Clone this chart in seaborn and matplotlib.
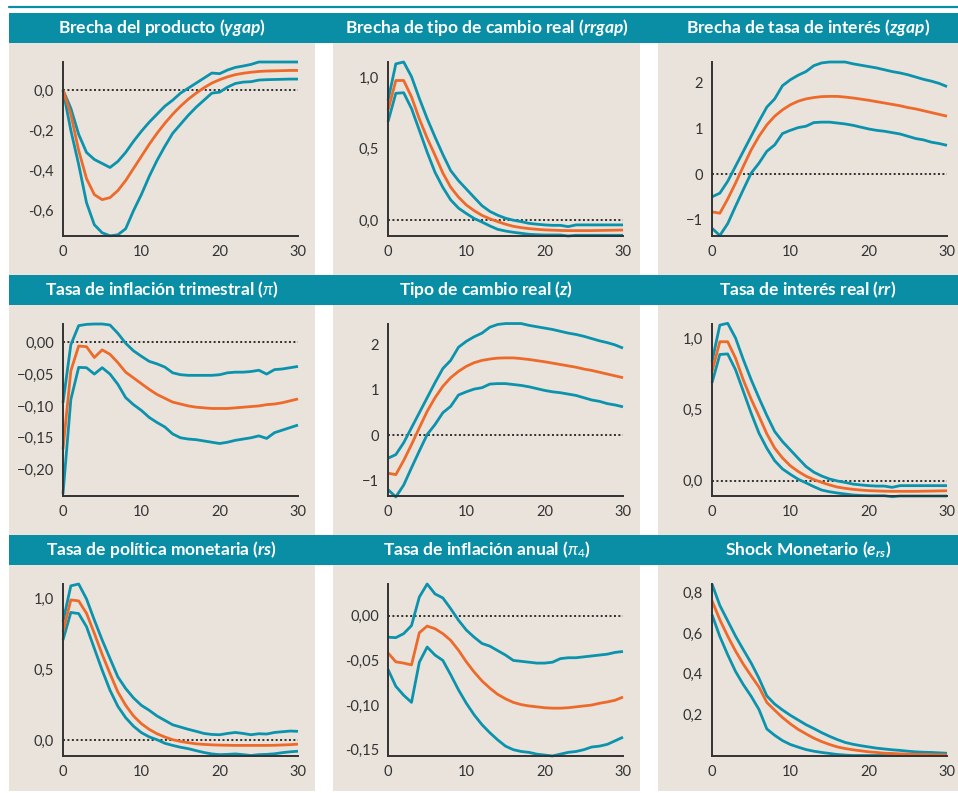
import numpy as np
import pandas as pd
import matplotlib
matplotlib.use("Agg")
import matplotlib.pyplot as plt
import seaborn as sns
from matplotlib.patches import Rectangle
from matplotlib.lines import Line2D

# ---------------- data ----------------
t = list(range(31))

ygap_upper = [0, -0.09, -0.22, -0.31, -0.345, -0.365, -0.385, -0.355, -0.31, -0.255, -0.205, -0.16, -0.12, -0.08, -0.05, -0.015, 0.01, 0.035, 0.06, 0.085, 0.082, 0.1, 0.113, 0.12, 0.128, 0.14, 0.14, 0.14, 0.14, 0.14, 0.14]
ygap_median = [0, -0.12, -0.3, -0.44, -0.52, -0.545, -0.535, -0.5, -0.45, -0.39, -0.33, -0.27, -0.215, -0.165, -0.12, -0.08, -0.045, -0.015, 0.012, 0.035, 0.052, 0.066, 0.077, 0.084, 0.089, 0.093, 0.095, 0.096, 0.097, 0.098, 0.098]
ygap_lower = [0, -0.2, -0.37, -0.56, -0.67, -0.71, -0.725, -0.72, -0.69, -0.6, -0.52, -0.43, -0.35, -0.28, -0.215, -0.17, -0.125, -0.085, -0.05, -0.015, -0.01, 0.015, 0.033, 0.04, 0.042, 0.05, 0.052, 0.053, 0.054, 0.055, 0.055]

rrgap_upper = [0.84, 1.097, 1.11, 1.007, 0.854, 0.712, 0.583, 0.46, 0.347, 0.276, 0.217, 0.158, 0.1, 0.06, 0.033, 0.012, -0.002, -0.012, -0.024, -0.03, -0.035, -0.038, -0.038, -0.047, -0.035, -0.035, -0.035, -0.035, -0.035, -0.035, -0.035]
rrgap_median = [0.77, 0.98, 0.98, 0.865, 0.71, 0.575, 0.455, 0.33, 0.23, 0.16, 0.105, 0.065, 0.032, 0.008, -0.012, -0.03, -0.045, -0.054, -0.061, -0.066, -0.07, -0.072, -0.074, -0.075, -0.075, -0.075, -0.075, -0.074, -0.073, -0.072, -0.071]
rrgap_lower = [0.69, 0.89, 0.894, 0.783, 0.63, 0.476, 0.335, 0.229, 0.141, 0.083, 0.045, 0.01, -0.015, -0.042, -0.066, -0.078, -0.087, -0.094, -0.101, -0.104, -0.106, -0.106, -0.106, -0.113, -0.108, -0.108, -0.108, -0.108, -0.108, -0.108, -0.108]

zgap_upper = [-0.5, -0.42, -0.16, 0.17, 0.5, 0.83, 1.16, 1.47, 1.65, 1.94, 2.07, 2.17, 2.25, 2.38, 2.44, 2.46, 2.46, 2.46, 2.42, 2.39, 2.36, 2.33, 2.29, 2.25, 2.22, 2.18, 2.13, 2.08, 2.04, 1.99, 1.92]
zgap_median = [-0.83, -0.86, -0.55, -0.2, 0.17, 0.53, 0.83, 1.08, 1.27, 1.41, 1.52, 1.6, 1.65, 1.68, 1.70, 1.705, 1.705, 1.69, 1.67, 1.645, 1.62, 1.59, 1.56, 1.53, 1.50, 1.46, 1.43, 1.39, 1.35, 1.31, 1.27]
zgap_lower = [-1.19, -1.35, -1.09, -0.71, -0.34, 0.02, 0.24, 0.5, 0.64, 0.89, 0.96, 1.02, 1.05, 1.13, 1.14, 1.14, 1.12, 1.1, 1.07, 1.03, 0.99, 0.96, 0.94, 0.91, 0.88, 0.83, 0.78, 0.75, 0.70, 0.67, 0.63]

pi_upper = [-0.095, -0.004, 0.026, 0.028, 0.0286, 0.0286, 0.027, 0.014, -0.0016, -0.0135, -0.022, -0.03, -0.034, -0.039, -0.048, -0.051, -0.052, -0.052, -0.052, -0.052, -0.051, -0.048, -0.047, -0.047, -0.046, -0.044, -0.05, -0.043, -0.042, -0.04, -0.038]
pi_median = [-0.168, -0.045, -0.006, -0.007, -0.024, -0.012, -0.019, -0.032, -0.047, -0.056, -0.065, -0.074, -0.082, -0.088, -0.094, -0.097, -0.1, -0.102, -0.103, -0.104, -0.104, -0.104, -0.103, -0.102, -0.101, -0.1, -0.098, -0.097, -0.095, -0.092, -0.089]
pi_lower = [-0.238, -0.09, -0.0395, -0.04, -0.05, -0.04, -0.05, -0.066, -0.087, -0.098, -0.107, -0.118, -0.126, -0.133, -0.144, -0.15, -0.152, -0.153, -0.155, -0.157, -0.159, -0.157, -0.154, -0.152, -0.15, -0.147, -0.151, -0.142, -0.138, -0.134, -0.13]

z_upper = zgap_upper
z_median = zgap_median
z_lower = zgap_lower

rr_upper = rrgap_upper
rr_median = rrgap_median
rr_lower = rrgap_lower

rs_upper = [0.835, 1.087, 1.1, 0.995, 0.847, 0.706, 0.576, 0.447, 0.365, 0.299, 0.247, 0.212, 0.172, 0.141, 0.11, 0.094, 0.078, 0.064, 0.049, 0.042, 0.04, 0.049, 0.056, 0.049, 0.04, 0.047, 0.045, 0.056, 0.061, 0.066, 0.064]
rs_median = [0.765, 0.988, 0.981, 0.894, 0.753, 0.605, 0.47, 0.341, 0.247, 0.172, 0.118, 0.078, 0.047, 0.024, 0.005, -0.007, -0.016, -0.024, -0.028, -0.031, -0.033, -0.034, -0.035, -0.035, -0.035, -0.035, -0.035, -0.034, -0.032, -0.03, -0.026]
rs_lower = [0.706, 0.9, 0.892, 0.8, 0.647, 0.494, 0.353, 0.24, 0.16, 0.1, 0.055, 0.025, 0.005, -0.02, -0.035, -0.048, -0.058, -0.072, -0.085, -0.095, -0.1, -0.098, -0.095, -0.1, -0.106, -0.1, -0.098, -0.094, -0.086, -0.08, -0.076]

pi4_upper = [-0.024, -0.0245, -0.02, -0.011, 0.021, 0.0356, 0.0245, 0.02, 0.008, -0.005, -0.016, -0.024, -0.031, -0.034, -0.039, -0.044, -0.05, -0.051, -0.052, -0.053, -0.053, -0.052, -0.048, -0.047, -0.047, -0.046, -0.045, -0.044, -0.043, -0.041, -0.04]
pi4_median = [-0.0416, -0.0516, -0.053, -0.055, -0.019, -0.0115, -0.0145, -0.02, -0.0275, -0.0386, -0.0516, -0.063, -0.073, -0.081, -0.088, -0.093, -0.097, -0.0995, -0.101, -0.102, -0.103, -0.1035, -0.1035, -0.103, -0.102, -0.101, -0.1, -0.098, -0.0965, -0.0946, -0.091]
pi4_lower = [-0.06, -0.079, -0.089, -0.097, -0.052, -0.035, -0.044, -0.05, -0.066, -0.083, -0.098, -0.111, -0.122, -0.131, -0.139, -0.146, -0.15, -0.152, -0.153, -0.155, -0.156, -0.157, -0.155, -0.153, -0.152, -0.15, -0.147, -0.146, -0.144, -0.14, -0.136]

ers_upper = [0.84, 0.735, 0.66, 0.585, 0.518, 0.453, 0.378, 0.292, 0.252, 0.223, 0.197, 0.174, 0.151, 0.132, 0.112, 0.094, 0.078, 0.064, 0.055, 0.048, 0.042, 0.036, 0.032, 0.028, 0.025, 0.021, 0.018, 0.016, 0.015, 0.013, 0.011]
ers_median = [0.758, 0.665, 0.585, 0.512, 0.447, 0.39, 0.335, 0.26, 0.222, 0.186, 0.155, 0.128, 0.106, 0.085, 0.068, 0.054, 0.042, 0.034, 0.028, 0.023, 0.018, 0.015, 0.011, 0.01, 0.008, 0.007, 0.006, 0.005, 0.004, 0.004, 0.003]
ers_lower = [0.69, 0.583, 0.494, 0.412, 0.347, 0.29, 0.225, 0.13, 0.099, 0.073, 0.054, 0.041, 0.029, 0.021, 0.015, 0.01, 0.005, 0.002, 0, 0, 0, 0, 0, 0, 0, 0, 0, 0, 0, 0, 0]

titles = [
    r"Brecha del producto ($\mathbfit{ygap}$)",
    r"Brecha de tipo de cambio real ($\mathbfit{rrgap}$)",
    r"Brecha de tasa de interés ($\mathbfit{zgap}$)",
    r"Tasa de inflación trimestral ($\pi$)",
    r"Tipo de cambio real ($\mathbfit{z}$)",
    r"Tasa de interés real ($\mathbfit{rr}$)",
    r"Tasa de política monetaria ($\mathbfit{rs}$)",
    r"Tasa de inflación anual ($\pi_4$)",
    r"Shock Monetario ($\mathbfit{e}_{\mathbfit{rs}}$)",
]

series = [
    (ygap_lower, ygap_median, ygap_upper),
    (rrgap_lower, rrgap_median, rrgap_upper),
    (zgap_lower, zgap_median, zgap_upper),
    (pi_lower, pi_median, pi_upper),
    (z_lower, z_median, z_upper),
    (rr_lower, rr_median, rr_upper),
    (rs_lower, rs_median, rs_upper),
    (pi4_lower, pi4_median, pi4_upper),
    (ers_lower, ers_median, ers_upper),
]

yticks = [
    [0.0, -0.2, -0.4, -0.6],
    [0.0, 0.5, 1.0],
    [-1, 0, 1, 2],
    [0.0, -0.05, -0.10, -0.15, -0.20],
    [-1, 0, 1, 2],
    [0.0, 0.5, 1.0],
    [0.0, 0.5, 1.0],
    [0.0, -0.05, -0.10, -0.15],
    [0.2, 0.4, 0.6, 0.8],
]
ytick_labels = [
    ["0,0", "-0,2", "-0,4", "-0,6"],
    ["0,0", "0,5", "1,0"],
    ["\u22121", "0", "1", "2"],
    ["0,00", "\u22120,05", "\u22120,10", "\u22120,15", "\u22120,20"],
    ["\u22121", "0", "1", "2"],
    ["0,0", "0,5", "1,0"],
    ["0,0", "0,5", "1,0"],
    ["0,00", "-0,05", "-0,10", "-0,15"],
    ["0,2", "0,4", "0,6", "0,8"],
]
ylims = [
    (-0.726, 0.14),
    (-0.113, 1.11),
    (-1.36, 2.46),
    (-0.2414, 0.0286),
    (-1.33, 2.45),
    (-0.108, 1.105),
    (-0.106, 1.1),
    (-0.1565, 0.0356),
    (0.0, 0.84),
]
xticks = [0, 10, 20, 30]

# ---------------- style ----------------
sns.set_style("white")
plt.rcParams["font.family"] = ["Lato", "DejaVu Sans"]
plt.rcParams["mathtext.fontset"] = "custom"
plt.rcParams["mathtext.rm"] = "Lato"
plt.rcParams["mathtext.it"] = "Lato:italic"
plt.rcParams["mathtext.bf"] = "Lato:bold"
plt.rcParams["mathtext.bfit"] = "Lato:italic:bold"

TEAL_BAR = "#0a8ea6"
TEAL = "#0b93ad"
ORANGE = "#ee6a2a"
BG = "#e9e3dc"
AXC = "#333333"

W, H = 958, 793
fig = plt.figure(figsize=(W / 100, H / 100), dpi=100)
fig.patch.set_facecolor("white")


def frect(x0, y0, x1, y1, color):
    fig.add_artist(Rectangle((x0 / W, 1 - y1 / H), (x1 - x0) / W, (y1 - y0) / H,
                             transform=fig.transFigure, facecolor=color,
                             edgecolor="none", lw=0, zorder=-5))


col_bg = [(9, 315), (333, 640), (658, 958)]
bar_rows = [(13, 43), (275, 305), (535, 565)]
bg_rows = [(43, 275), (305, 535), (565, 791)]

# top line
fig.add_artist(Line2D([9 / W, 1.0], [1 - 6.5 / H, 1 - 6.5 / H], transform=fig.transFigure,
                      color=TEAL_BAR, lw=1.6, zorder=-4))
for (r0, r1) in bg_rows:
    for (c0, c1) in col_bg:
        frect(c0, r0, c1, r1, BG)
for (b0, b1) in bar_rows:
    frect(9, b0, 958, b1, TEAL_BAR)

ax_left = [63, 388, 712]
ax_w = 235
ax_rows = [(62, 236), (324, 496), (584, 755.5)]

for i in range(9):
    r, c = divmod(i, 3)
    top, bot = ax_rows[r]
    ax = fig.add_axes([ax_left[c] / W, 1 - bot / H, ax_w / W, (bot - top) / H])
    ax.set_facecolor("none")
    lo, me, up = series[i]
    df = pd.DataFrame({
        "t": t * 3,
        "value": list(up) + list(lo) + list(me),
        "band": ["upper"] * 31 + ["lower"] * 31 + ["median"] * 31,
    })
    if ylims[i][0] < 0 < ylims[i][1]:
        ax.axhline(0, color="black", lw=1.1, ls=(0, (1.3, 1.6)), zorder=1)
    sns.lineplot(data=df, x="t", y="value", hue="band",
                 hue_order=["upper", "lower", "median"],
                 palette={"upper": TEAL, "lower": TEAL, "median": ORANGE},
                 linewidth=2.0, legend=False, ax=ax, zorder=3)
    for ln in ax.lines:
        ln.set_clip_on(False)
        ln.set_solid_capstyle("butt")
    ax.set_xlim(0, 30)
    ax.set_ylim(*ylims[i])
    ax.set_xticks(xticks)
    ax.set_xticklabels([str(v) for v in xticks])
    ax.set_yticks(yticks[i])
    ax.set_yticklabels(ytick_labels[i])
    ax.set_xlabel("")
    ax.set_ylabel("")
    for s in ["top", "right"]:
        ax.spines[s].set_visible(False)
    for s in ["left", "bottom"]:
        ax.spines[s].set_color(AXC)
        ax.spines[s].set_linewidth(1.4)
        ax.spines[s].set_zorder(4)
    ax.tick_params(axis="both", direction="out", length=4.5, width=1.1,
                   color=AXC, labelcolor=AXC, labelsize=10.5, pad=2)
    for lbl in ax.get_yticklabels() + ax.get_xticklabels():
        lbl.set_fontfamily(["Lato", "DejaVu Sans"])
    # title
    b0, b1 = bar_rows[r]
    c0, c1 = col_bg[c]
    cx = (c0 + c1) / 2
    fig.text(cx / W, 1 - (b0 + b1) / 2 / H, titles[i], ha="center", va="center",
             color="white", fontweight="bold", fontsize=12.5, zorder=10)

fig.savefig("out.png", dpi=100, facecolor="white")
